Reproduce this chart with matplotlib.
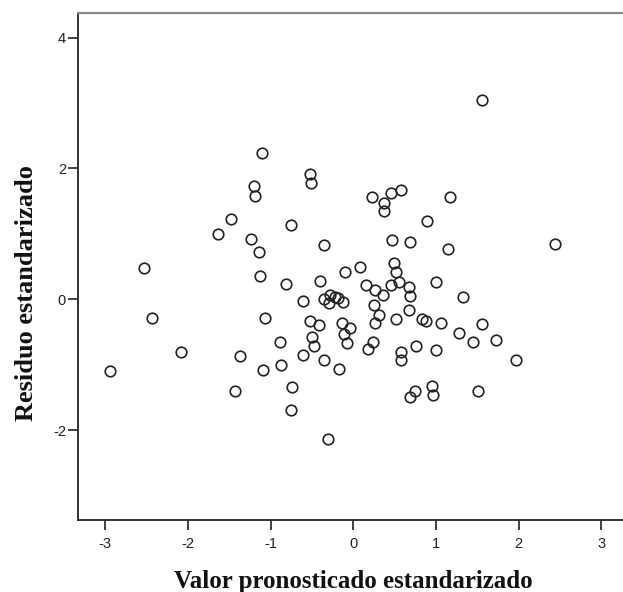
import matplotlib
matplotlib.use("Agg")
import matplotlib.pyplot as plt

pred = [-2.53, -1.11, -0.53, -0.51, -1.20, -1.19, -1.48, -0.75, -1.64, -1.24,
        -1.14, -0.35, -1.13, -0.82, -0.40, -0.10, 0.08, 1.56, 0.23, 0.46,
        0.58, 0.37, 0.37, 1.17, 0.89, 2.44, 0.47, 0.68, 1.14, 0.49,
        0.52, 1.00, 0.55, 0.45, 0.15, 0.26, 0.36, 0.67, 0.69, 1.33,
        -0.61, -0.36, -0.28, -0.22, -0.18, -0.12, -0.30, 0.25, 0.31, 0.26,
        0.52, 0.67, 0.83, 0.88, 1.06, 1.28, 1.56, 1.45, 1.73, 1.97,
        0.24, 0.18, 0.76, 0.57, 0.57, 1.00, 0.75, 0.69, 0.95, 0.96,
        1.51, -2.44, -2.94, -2.08, -1.07, -0.52, -0.41, -0.14, -0.04, -0.11,
        -0.08, -0.50, -0.48, -0.89, -0.61, -0.35, -0.17, -1.37, -1.09, -0.88,
        -1.43, -0.74, -0.75, -0.31]
resid = [0.48, 2.24, 1.92, 1.78, 1.73, 1.58, 1.22, 1.14, 0.99, 0.92,
         0.72, 0.83, 0.36, 0.24, 0.28, 0.41, 0.50, 3.04, 1.56, 1.63,
         1.67, 1.47, 1.35, 1.56, 1.19, 0.84, 0.91, 0.88, 0.76, 0.55,
         0.42, 0.27, 0.27, 0.21, 0.21, 0.14, 0.06, 0.19, 0.05, 0.03,
         -0.03, 0.01, 0.07, 0.04, 0.02, -0.04, -0.06, -0.09, -0.24, -0.36,
         -0.31, -0.17, -0.31, -0.34, -0.36, -0.52, -0.38, -0.65, -0.62, -0.93,
         -0.66, -0.76, -0.71, -0.80, -0.93, -0.78, -1.40, -1.49, -1.33, -1.46,
         -1.40, -0.29, -1.09, -0.80, -0.28, -0.34, -0.40, -0.37, -0.44, -0.53,
         -0.67, -0.58, -0.71, -0.65, -0.85, -0.93, -1.07, -0.87, -1.08, -1.00,
         -1.41, -1.34, -1.69, -2.14]

xticks = [-3, -2, -1, 0, 1, 2, 3]
yticks = [-2, 0, 2, 4]
xlabel = "Valor pronosticado estandarizado"
ylabel = "Residuo estandarizado"

fig = plt.figure(figsize=(6.23, 5.92), dpi=100)
ax = fig.add_axes([77.7/623, 72/592, (623-77.7)/623, (520-13)/592])

ax.plot(pred, resid, linestyle="none", marker="o", markersize=7.6,
        markerfacecolor="none", markeredgecolor="#222222", markeredgewidth=1.2)

ax.set_xlim(-3.333, 3.26)
ax.set_ylim(-3.375, 4.375)
ax.set_xticks(xticks)
ax.set_yticks(yticks)
ax.set_xticklabels([str(t) for t in xticks])
ax.set_yticklabels([str(t) for t in yticks])

ax.spines["right"].set_visible(False)
ax.spines["left"].set_color("#333333")
ax.spines["bottom"].set_color("#333333")
ax.spines["top"].set_color("#888888")
for s in ["left", "bottom"]:
    ax.spines[s].set_linewidth(1.4)
ax.spines["top"].set_linewidth(1.6)

ax.tick_params(direction="out", length=7, width=1.3, color="#333333",
               labelsize=10.5, labelcolor="#222222")
ax.tick_params(axis="x", pad=5)
ax.tick_params(axis="y", pad=1.5)
for lab in ax.get_xticklabels() + ax.get_yticklabels():
    lab.set_family("Liberation Sans")

ax.set_xlabel(xlabel, family="Liberation Serif", fontweight="bold",
              fontsize=18, color="#111111")
ax.xaxis.label.set_va("baseline")
ax.xaxis.set_label_coords((353.5 - 77.7) / 545.3, (520 - 588) / 507)
ax.set_ylabel(ylabel, family="Liberation Serif", fontweight="bold",
              fontsize=19, color="#111111")
ax.yaxis.label.set_va("center")
ax.yaxis.set_label_coords((26 - 77.7) / 545.3, (520 - 293.5) / 507)

fig.savefig("out.png", dpi=100)
